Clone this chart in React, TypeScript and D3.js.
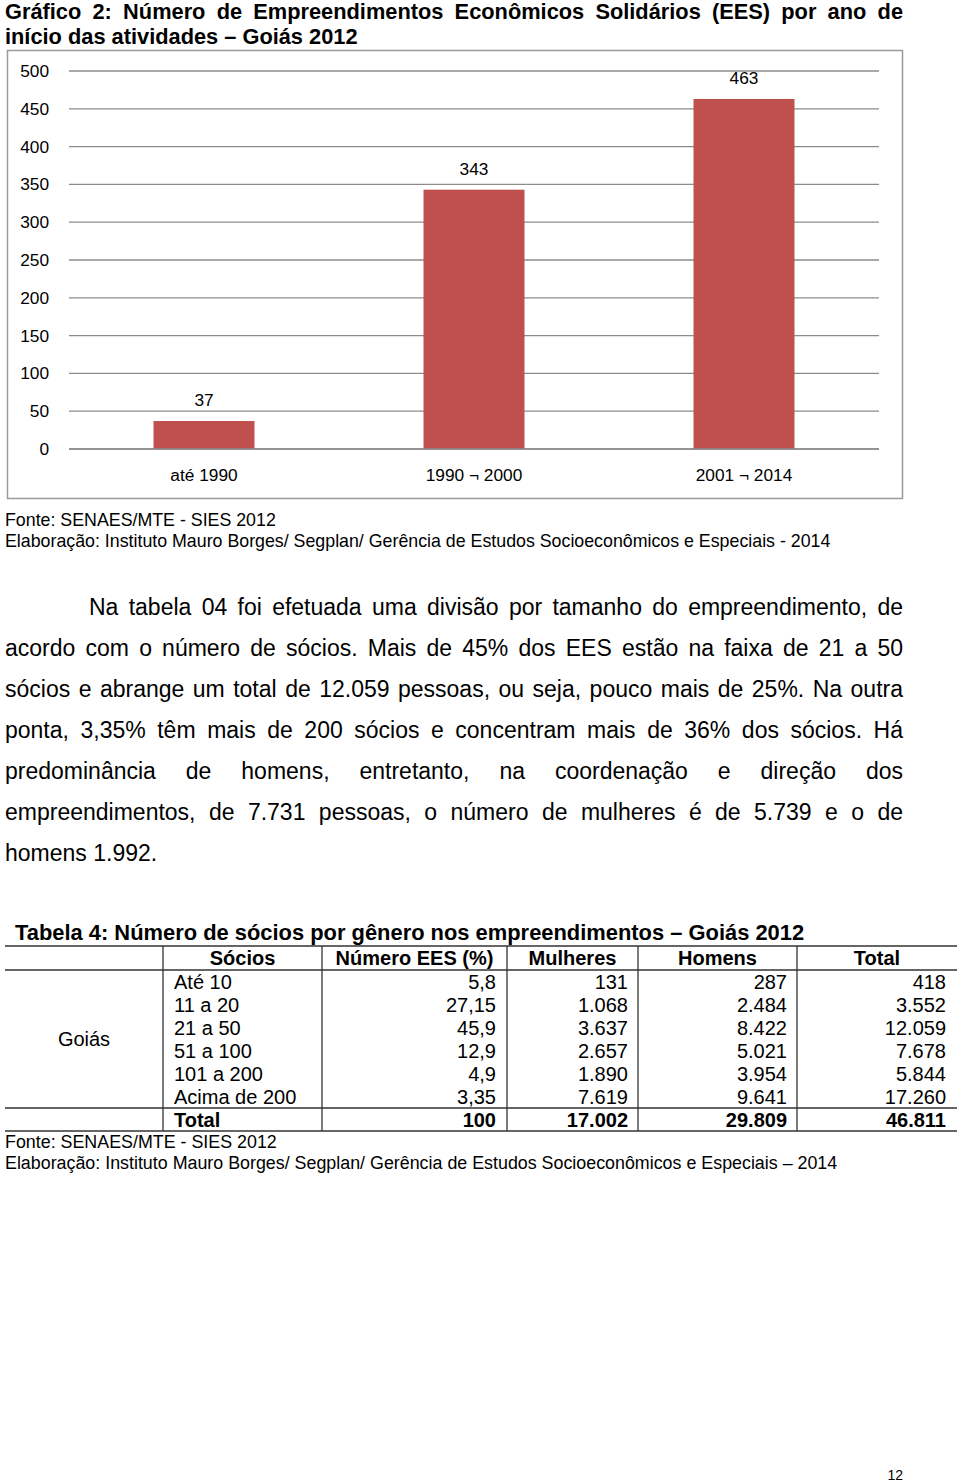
import React from "react";
import * as d3 from "d3";

// ---------- Data ----------
const categories = ["até 1990", "1990 ¬ 2000", "2001 ¬ 2014"];
const values = [37, 343, 463];
const yTickValues = [0, 50, 100, 150, 200, 250, 300, 350, 400, 450, 500];

const tableSocios = ["Até 10", "11 a 20", "21 a 50", "51 a 100", "101 a 200", "Acima de 200"];
const tableEES = ["5,8", "27,15", "45,9", "12,9", "4,9", "3,35"];
const tableMulheres = [131, 1068, 3637, 2657, 1890, 7619];
const tableHomens = [287, 2484, 8422, 5021, 3954, 9641];
const tableTotal = [418, 3552, 12059, 7678, 5844, 17260];
const totalRow = { ees: "100", mulheres: 17002, homens: 29809, total: 46811 };
const tableHeaders = ["", "Sócios", "Número EES (%)", "Mulheres", "Homens", "Total"];

const titleLines = [
  "Gráfico 2: Número de Empreendimentos Econômicos Solidários (EES) por ano de",
  "início das atividades – Goiás 2012",
];
const chartSource = [
  "Fonte: SENAES/MTE - SIES 2012",
  "Elaboração: Instituto Mauro Borges/ Segplan/ Gerência de Estudos Socioeconômicos e Especiais - 2014",
];
const paragraphLines = [
  "Na tabela 04 foi efetuada uma divisão por tamanho do empreendimento, de",
  "acordo com o número de sócios. Mais de 45% dos EES estão na faixa de 21 a 50",
  "sócios e abrange um total de 12.059 pessoas, ou seja, pouco mais de 25%. Na outra",
  "ponta, 3,35% têm mais de 200 sócios e concentram mais de 36% dos sócios. Há",
  "predominância de homens, entretanto, na coordenação e direção dos",
  "empreendimentos, de 7.731 pessoas, o número de mulheres é de 5.739 e o de",
  "homens 1.992.",
];
const tableTitle = "Tabela 4: Número de sócios por gênero nos empreendimentos – Goiás 2012";
const tableSource = [
  "Fonte: SENAES/MTE - SIES 2012",
  "Elaboração: Instituto Mauro Borges/ Segplan/ Gerência de Estudos Socioeconômicos e Especiais – 2014",
];
const pageNumber = "12";

// ---------- Helpers ----------
const ptBR = d3.formatLocale({ decimal: ",", thousands: ".", grouping: [3], currency: ["R$", ""] });
const fmt = ptBR.format(",d");

let _ctx: CanvasRenderingContext2D | null = null;
function measure(text: string, font: string): number {
  if (!_ctx) _ctx = document.createElement("canvas").getContext("2d");
  _ctx!.font = font;
  return _ctx!.measureText(text).width;
}

function JustifiedLine({ text, x0, x1, y, font, fontFamily, fontSize, fontWeight, justify }: any) {
  const words = text.split(" ");
  const widths = words.map((w: string) => measure(w, font));
  const sum = widths.reduce((a: number, b: number) => a + b, 0);
  const gap = justify && words.length > 1 ? (x1 - x0 - sum) / (words.length - 1) : measure(" ", font);
  let x = x0;
  const xs: number[] = [];
  words.forEach((_: string, i: number) => {
    xs.push(x);
    x += widths[i] + gap;
  });
  return (
    <text y={y} fontFamily={fontFamily} fontSize={fontSize} fontWeight={fontWeight} fill="#000">
      {words.map((w: string, i: number) => (
        <tspan key={i} x={xs[i]}>
          {w}
        </tspan>
      ))}
    </text>
  );
}

const SANS = "'Liberation Sans', Arial, sans-serif";

export default function App() {
  // Chart scales
  const plotLeft = 69;
  const plotRight = 879;
  const y = d3.scaleLinear().domain([0, 500]).range([449, 71]);
  const x = d3.scaleBand().domain(categories).range([plotLeft, plotRight]).paddingInner(0.626).paddingOuter(0.313);

  // Table geometry
  const colX = [5, 163, 322, 507, 638, 797, 957];
  const tableTop = 946;
  const headerH = 24;
  const rowH = 23;
  const rowsTop = tableTop + headerH;
  const totalTop = rowsTop + rowH * tableSocios.length;
  const tableBottom = totalTop + rowH;
  const rowY = (i: number) => rowsTop + rowH * i + rowH / 2 + 7;

  const titleFont = `bold 21.8px ${SANS}`;
  const paraFont = `23px ${SANS}`;

  return (
    <svg width={960} height={1483} style={{ position: "absolute", left: 0, top: 0, background: "#fff" }}>
      <rect x={0} y={0} width={960} height={1483} fill="#fff" />
      {/* Title */}
      <JustifiedLine text={titleLines[0]} x0={5} x1={903} y={19} font={titleFont} fontFamily={SANS} fontSize={21.8} fontWeight="bold" justify />
      <JustifiedLine text={titleLines[1]} x0={5} x1={903} y={44} font={titleFont} fontFamily={SANS} fontSize={21.8} fontWeight="bold" justify={false} />

      {/* Chart frame */}
      <rect x={7.5} y={50.5} width={895} height={448} fill="none" stroke="#9a9a9a" strokeWidth={1.5} />

      {/* Gridlines + y labels */}
      {yTickValues.map((t) => (
        <g key={t}>
          <line x1={plotLeft} x2={plotRight} y1={y(t)} y2={y(t)} stroke="#8c8c8c" strokeWidth={1.3} />
          <text x={49} y={y(t)} dy="0.35em" textAnchor="end" fontFamily={SANS} fontSize={17.3} fill="#000">
            {t}
          </text>
        </g>
      ))}

      {/* Bars */}
      {categories.map((c, i) => (
        <g key={c}>
          <rect x={x(c)} y={y(values[i])} width={x.bandwidth()} height={y(0) - y(values[i])} fill="#C0504D" />
          <text x={x(c)! + x.bandwidth() / 2} y={y(values[i]) - 21} dy="0.35em" textAnchor="middle" fontFamily={SANS} fontSize={17.3} fill="#000">
            {values[i]}
          </text>
          <text x={x(c)! + x.bandwidth() / 2} y={475} dy="0.35em" textAnchor="middle" fontFamily={SANS} fontSize={17.3} fill="#000">
            {c}
          </text>
        </g>
      ))}
      <line x1={plotLeft} x2={plotRight} y1={y(0)} y2={y(0)} stroke="#8c8c8c" strokeWidth={1.3} />

      {/* Chart source */}
      {chartSource.map((s, i) => (
        <text key={i} x={5} y={526 + 21 * i} fontFamily={SANS} fontSize={17.8} fill="#000">
          {s}
        </text>
      ))}

      {/* Paragraph */}
      {paragraphLines.map((l, i) => (
        <JustifiedLine
          key={i}
          text={l}
          x0={i === 0 ? 89 : 5}
          x1={903}
          y={615 + 41 * i}
          font={paraFont}
          fontFamily={SANS}
          fontSize={23}
          justify={i < paragraphLines.length - 1}
        />
      ))}

      {/* Table title */}
      <text x={15} y={940} fontFamily={SANS} fontSize={21.9} fontWeight="bold" fill="#000">
        {tableTitle}
      </text>

      {/* Table lines */}
      {[tableTop, rowsTop, totalTop, tableBottom].map((ly, i) => (
        <line key={i} x1={5} x2={957} y1={ly} y2={ly} stroke="#333" strokeWidth={1.5} />
      ))}
      {colX.slice(1, 6).map((cx, i) => (
        <line key={i} x1={cx} x2={cx} y1={tableTop} y2={tableBottom} stroke="#333" strokeWidth={1.3} />
      ))}

      {/* Header */}
      {tableHeaders.map((h, i) =>
        h ? (
          <text key={i} x={(colX[i] + colX[i + 1]) / 2} y={tableTop + headerH / 2 + 7} textAnchor="middle" fontFamily={SANS} fontSize={20} fontWeight="bold" fill="#000">
            {h}
          </text>
        ) : null
      )}

      {/* Goiás */}
      <text x={(colX[0] + colX[1]) / 2} y={(rowsTop + totalTop) / 2 + 7} textAnchor="middle" fontFamily={SANS} fontSize={20} fill="#000">
        Goiás
      </text>

      {/* Rows */}
      {tableSocios.map((s, i) => (
        <g key={s} fontFamily={SANS} fontSize={20} fill="#000">
          <text x={colX[1] + 11} y={rowY(i)}>{s}</text>
          <text x={colX[3] - 11} y={rowY(i)} textAnchor="end">{tableEES[i]}</text>
          <text x={colX[4] - 10} y={rowY(i)} textAnchor="end">{fmt(tableMulheres[i])}</text>
          <text x={colX[5] - 10} y={rowY(i)} textAnchor="end">{fmt(tableHomens[i])}</text>
          <text x={colX[6] - 11} y={rowY(i)} textAnchor="end">{fmt(tableTotal[i])}</text>
        </g>
      ))}

      {/* Total row */}
      <g fontFamily={SANS} fontSize={20} fontWeight="bold" fill="#000">
        <text x={colX[1] + 11} y={totalTop + rowH / 2 + 7}>Total</text>
        <text x={colX[3] - 11} y={totalTop + rowH / 2 + 7} textAnchor="end">{totalRow.ees}</text>
        <text x={colX[4] - 10} y={totalTop + rowH / 2 + 7} textAnchor="end">{fmt(totalRow.mulheres)}</text>
        <text x={colX[5] - 10} y={totalTop + rowH / 2 + 7} textAnchor="end">{fmt(totalRow.homens)}</text>
        <text x={colX[6] - 11} y={totalTop + rowH / 2 + 7} textAnchor="end">{fmt(totalRow.total)}</text>
      </g>

      {/* Table source */}
      {tableSource.map((s, i) => (
        <text key={i} x={5} y={1148 + 21 * i} fontFamily={SANS} fontSize={17.85} fill="#000">
          {s}
        </text>
      ))}

      {/* Page number */}
      <text x={903} y={1480} textAnchor="end" fontFamily={SANS} fontSize={14} fill="#000">
        {pageNumber}
      </text>
    </svg>
  );
}
